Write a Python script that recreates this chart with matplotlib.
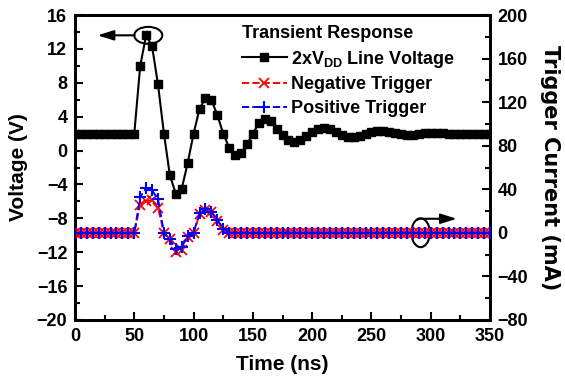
import matplotlib
matplotlib.use("Agg")
import matplotlib.pyplot as plt
from matplotlib.patches import Ellipse
from matplotlib.ticker import MultipleLocator

plt.rcParams['font.family'] = ['Liberation Sans', 'DejaVu Sans']
plt.rcParams['font.weight'] = 'bold'
plt.rcParams['axes.labelweight'] = 'bold'
plt.rcParams['mathtext.fontset'] = 'custom'
plt.rcParams['mathtext.rm'] = 'Liberation Sans:bold'
plt.rcParams['mathtext.bf'] = 'Liberation Sans:bold'

time_ns = [0, 5, 10, 15, 20, 25, 30, 35, 40, 45, 50, 55, 60, 65, 70, 75, 80, 85, 90, 95,
           100, 105, 110, 115, 120, 125, 130, 135, 140, 145, 150, 155, 160, 165, 170, 175,
           180, 185, 190, 195, 200, 205, 210, 215, 220, 225, 230, 235, 240, 245, 250, 255,
           260, 265, 270, 275, 280, 285, 290, 295, 300, 305, 310, 315, 320, 325, 330, 335,
           340, 345, 350]

line_voltage = [2.0, 2.0, 2.0, 2.0, 2.0, 2.0, 2.0, 2.0, 2.0, 2.0, 2.0, 10.0, 13.6, 12.3, 7.8,
                2.0, -2.9, -5.1, -4.5, -1.5, 2.0, 4.9, 6.2, 6.0, 4.2, 2.0, 0.35, -0.5, -0.3,
                0.75, 2.0, 3.2, 3.7, 3.5, 2.6, 1.8, 1.2, 1.0, 1.2, 1.7, 2.2, 2.6, 2.7, 2.5,
                2.2, 1.8, 1.55, 1.55, 1.75, 2.0, 2.2, 2.3, 2.3, 2.2, 2.05, 1.9, 1.85, 1.85,
                1.95, 2.05, 2.1, 2.1, 2.05, 2.0, 1.95, 1.95, 2.0, 2.0, 2.0, 2.0, 2.0]

negative_trigger = [0, 0, 0, 0, 0, 0, 0, 0, 0, 0, 0, 26, 29, 30, 23, 0, -6, -18, -16, -4,
                    0, 17, 21, 19, 11, 3, 0, 0, 0, 0, 0, 0, 0, 0, 0, 0, 0, 0, 0, 0, 0, 0,
                    0, 0, 0, 0, 0, 0, 0, 0, 0, 0, 0, 0, 0, 0, 0, 0, 0, 0, 0, 0, 0, 0, 0, 0,
                    0, 0, 0, 0, 0]

positive_trigger = [0, 0, 0, 0, 0, 0, 0, 0, 0, 0, 0, 33, 41, 39, 31, 0, -6, -15, -13, -3,
                    0, 18, 22, 19, 12, 4, 0, 0, 0, 0, 0, 0, 0, 0, 0, 0, 0, 0, 0, 0, 0, 0,
                    0, 0, 0, 0, 0, 0, 0, 0, 0, 0, 0, 0, 0, 0, 0, 0, 0, 0, 0, 0, 0, 0, 0, 0,
                    0, 0, 0, 0, 0]

labels = [r"2xV$_{\mathrm{DD}}$ Line Voltage", "Negative Trigger", "Positive Trigger"]
legend_title = "Transient Response"

fig = plt.figure(figsize=(5.65, 3.79), dpi=100)
ax = fig.add_axes([75/565, 1-320/379, 415/565, 305/379])
ax2 = ax.twinx()

h1, = ax.plot(time_ns, line_voltage, color='black', lw=1.5, marker='s', ms=5.6,
              label=labels[0], zorder=3)
h2, = ax2.plot(time_ns, negative_trigger, color='red', lw=1.4, ls='--', marker='x',
               ms=7.5, mew=1.3, label=labels[1], zorder=3)
h3, = ax2.plot(time_ns, positive_trigger, color='blue', lw=1.4, ls='--', marker='+',
               ms=8.5, mew=1.5, label=labels[2], zorder=4)

ax.set_xlim(0, 350)
ax.set_ylim(-20, 16)
ax2.set_ylim(-80, 200)

ax.xaxis.set_major_locator(MultipleLocator(50))
ax.xaxis.set_minor_locator(MultipleLocator(25))
ax.yaxis.set_major_locator(MultipleLocator(4))
ax.yaxis.set_minor_locator(MultipleLocator(2))
ax2.yaxis.set_major_locator(MultipleLocator(40))
ax2.yaxis.set_minor_locator(MultipleLocator(20))

for a in (ax, ax2):
    for s in a.spines.values():
        s.set_linewidth(2)
ax.tick_params(axis='both', which='both', direction='in', width=1.5, labelsize=13)
ax.tick_params(axis='both', which='major', length=6)
ax.tick_params(axis='both', which='minor', length=3.5)
ax.tick_params(axis='y', pad=5.5)
ax.tick_params(axis='x', pad=6)
ax.tick_params(axis='x', which='both', top=False)
ax2.tick_params(axis='y', which='both', direction='in', width=1.5, labelsize=13, pad=5.5)
ax2.tick_params(axis='y', which='major', length=6)
ax2.tick_params(axis='y', which='minor', length=3.5)

ax.set_xlabel("Time (ns)", fontsize=15, labelpad=7)
ax.set_ylabel("Voltage (V)", fontsize=15, labelpad=6)
ax2.set_ylabel("Trigger Current (mA)", fontsize=15, rotation=270, labelpad=23,
               family=['DejaVu Sans'])

leg = ax2.legend(handles=[h1, h2, h3], loc='upper left', bbox_to_anchor=(0.402, 0.968),
                 frameon=False, title=legend_title, alignment='left',
                 prop={'weight': 'bold', 'size': 13},
                 title_fontproperties={'weight': 'bold', 'size': 13},
                 handlelength=2.5, handletextpad=0.25, labelspacing=0.38, borderpad=0,
                 borderaxespad=0)

# annotations: ellipses and arrows pointing to the relevant axes
ax.add_patch(Ellipse((61.8, 13.6), width=23.6, height=2.0, fill=False, lw=1.5,
                     color='black', zorder=5))
ax.annotate('', xy=(19, 13.6), xytext=(50.2, 13.6),
            arrowprops=dict(arrowstyle='-|>,head_length=0.8,head_width=0.25',
                            color='black', lw=1.5, mutation_scale=12,
                            shrinkA=0, shrinkB=0), zorder=5)
ax.add_patch(Ellipse((291.5, -9.7), width=15.5, height=3.4, fill=False, lw=1.5,
                     color='black', zorder=5))
ax.annotate('', xy=(322, -8.05), xytext=(289.0, -8.15),
            arrowprops=dict(arrowstyle='-|>,head_length=0.8,head_width=0.25',
                            color='black', lw=1.5, mutation_scale=12,
                            shrinkA=0, shrinkB=0,
                            connectionstyle='angle,angleA=90,angleB=0,rad=1'), zorder=5)

fig.savefig("out.png", dpi=100)
